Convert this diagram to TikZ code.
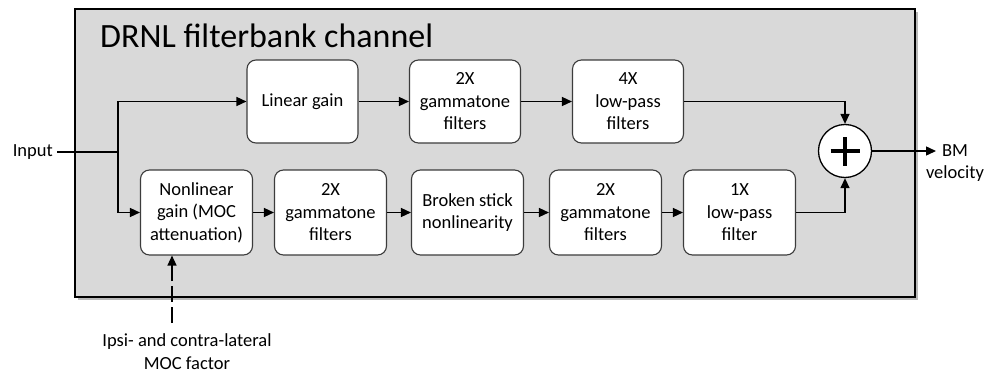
\documentclass[tikz,border=0pt]{standalone}
\usepackage{fontspec}
\setmainfont{Carlito}
\usetikzlibrary{arrows.meta,calc}
\definecolor{bggray}{RGB}{217,217,217}
\definecolor{boxline}{RGB}{60,60,60}
\definecolor{shadowgray}{RGB}{185,185,185}
\begin{document}
\begin{tikzpicture}[x=1pt,y=-1pt,
  blk/.style={draw=boxline,line width=1.1pt,fill=white,rounded corners=9pt,
    minimum width=112pt,minimum height=84pt,inner sep=0pt,align=center,
    font=\fontsize{18.5}{22.5}\selectfont},
  arr/.style={line width=1.4pt,-{Triangle[length=10pt,width=9pt]}},
  conn/.style={line width=1.4pt},
  lbl/.style={font=\fontsize{18.5}{22.5}\selectfont,align=center,inner sep=0pt}]
\useasboundingbox (0,0) rectangle (987,372);
% outer frame with shadow
\fill[shadowgray] (78,12) rectangle (918,300);
\draw[fill=bggray,line width=2.6pt] (75,9) rectangle (915,297);
\node[anchor=base west,inner sep=0pt,font=\fontsize{34}{38}\selectfont] (title) at (100,47) {DRNL filterbank channel};
% top row
\node[blk,minimum width=111pt,minimum height=83pt] (lin) at (302.5,101.5) {Linear gain};
\node[blk,minimum width=111pt,minimum height=83pt] (g1) at (465,101.5) {2X\\gammatone\\filters};
\node[blk,minimum width=111pt,minimum height=83pt] (lp4) at (628,101.5) {4X\\low-pass\\filters};
% bottom row
\node[blk,minimum height=85pt] (nl) at (196.5,212.5) {Nonlinear\\gain (MOC\\attenuation)};
\node[blk,minimum height=85pt] (g2) at (330.5,212.5) {2X\\gammatone\\filters};
\node[blk,minimum height=85pt] (bs) at (467.5,212.5) {Broken stick\\nonlinearity};
\node[blk,minimum height=85pt] (g3) at (605.5,212.5) {2X\\gammatone\\filters};
\node[blk,minimum height=85pt] (lp1) at (739.5,212.5) {1X\\low-pass\\filter};
% sum
\node[circle,draw=black,line width=1.3pt,fill=white,minimum size=53pt,inner sep=0pt] (sum) at (845,151) {};
\draw[line width=3.8pt] ([xshift=-14.5pt]sum.center) -- ([xshift=14.5pt]sum.center);
\draw[line width=3.8pt] ([yshift=-14.5pt]sum.center) -- ([yshift=14.5pt]sum.center);
% input
\node[lbl,anchor=east] (in) at (53,152) {Input};
\coordinate (j) at (118,152);
\draw[conn] ([xshift=4pt]in.east) -- (j);
\draw[arr] (j) |- (lin.west);
\draw[arr] (j) |- (nl.west);
% top chain
\draw[arr] (lin) -- (g1);
\draw[arr] (g1) -- (lp4);
\draw[arr] (lp4.east) -| (sum.north);
% bottom chain
\draw[arr] (nl) -- (g2);
\draw[arr] (g2) -- (bs);
\draw[arr] (bs) -- (g3);
\draw[arr] (g3) -- (lp1);
\draw[arr] (lp1.east) -| (sum.south);
% output
\coordinate (outend) at (936,151);
\draw[arr] (sum.east) -- (outend);
\node[lbl] (out) at (955,163) {BM\\velocity};
% MOC input
\coordinate (moc) at (172,323);
\draw[arr,dash pattern=on 16pt off 5pt] (moc) -- (moc |- nl.south);
\node[lbl] (moctext) at (187,351.5) {Ipsi- and contra-lateral\\MOC factor};
\end{tikzpicture}
\end{document}
